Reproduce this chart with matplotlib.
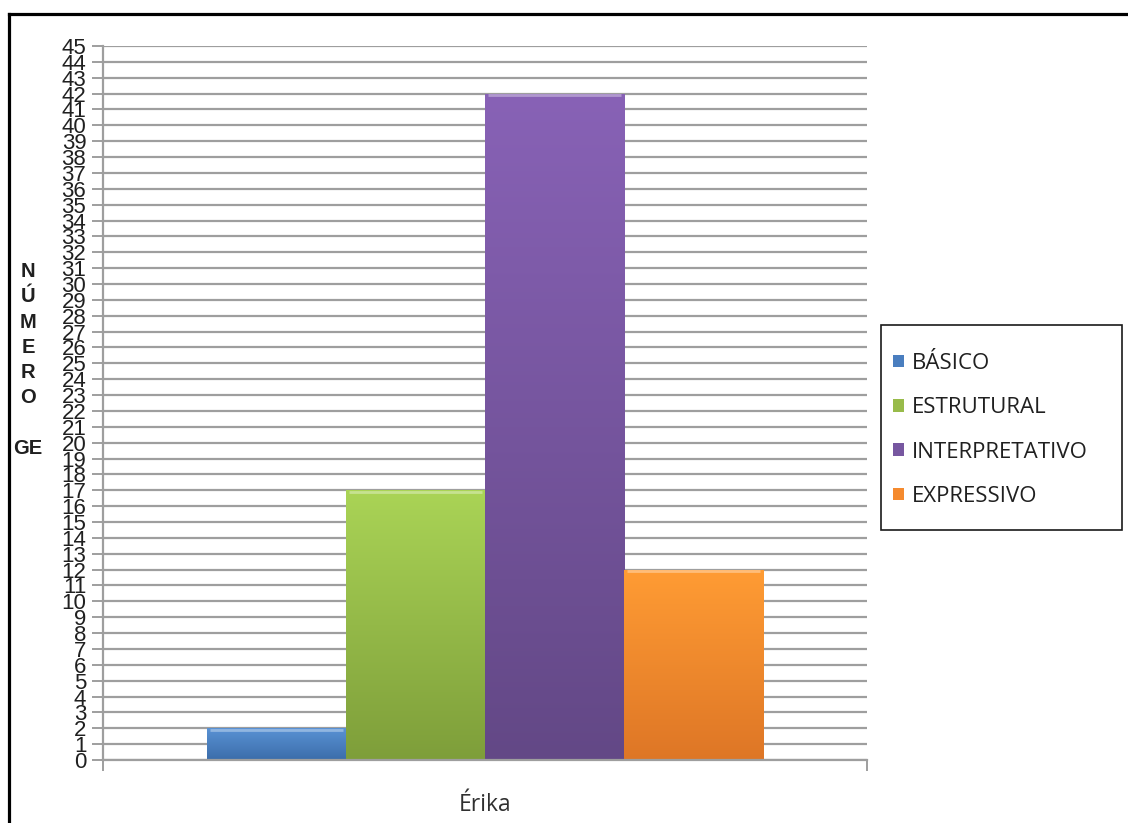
import numpy as np
import matplotlib.pyplot as plt
from matplotlib.colors import LinearSegmentedColormap
from matplotlib.patches import Patch, Rectangle
from matplotlib.lines import Line2D

categorias = ['BÁSICO', 'ESTRUTURAL', 'INTERPRETATIVO', 'EXPRESSIVO']
valores = [2, 17, 42, 12]
aluno = 'Érika'
yticks = list(range(0, 46))

# cor do topo e da base de cada barra (gradiente)
cores_topo = ['#5A92D4', '#AAD456', '#8862B6', '#FF9C34']
cores_base = ['#3B6DAA', '#7E9E3A', '#634886', '#DE7626']
cores_legenda = ['#4A7EBF', '#98BB4A', '#7757A0', '#F58A2E']

fig = plt.figure(figsize=(11.28, 8.23), dpi=100)
ax = fig.add_axes([103 / 1128, 1 - 760 / 823, 764 / 1128, 714 / 823])

w = 0.182
for i, v in enumerate(valores):
    b = ax.bar((i - 1.5) * w, v, width=w, color=cores_legenda[i], edgecolor='none', zorder=3)[0]
    cmap = LinearSegmentedColormap.from_list('g%d' % i, [cores_base[i], cores_topo[i]])
    grad = np.linspace(0, 1, 256).reshape(-1, 1)
    x0 = b.get_x()
    im = ax.imshow(grad, cmap=cmap, origin='lower', aspect='auto', zorder=4,
                   extent=[x0, x0 + b.get_width(), 0, b.get_height()])
    im.set_clip_path(b)
    # realce claro no topo da barra
    ax.plot([x0 + 0.004, x0 + b.get_width() - 0.004], [v - 0.1, v - 0.1],
            color='white', alpha=0.35, lw=2, zorder=5, solid_capstyle='butt')

ax.set_xlim(-0.5, 0.5)
ax.set_ylim(0, 45)
ax.set_yticks(yticks)
ax.set_yticklabels([str(t) for t in yticks], fontsize=16,
                   family=['Liberation Sans Narrow', 'Liberation Sans'], color='#202020')
ax.yaxis.grid(True, color='#9E9E9E', lw=1.6, zorder=0)
ax.set_axisbelow(True)
ax.tick_params(axis='y', length=8, width=1.4, color='#9E9E9E', pad=4)
ax.set_xticks([-0.5, 0.5])
ax.set_xticklabels(['', ''])
ax.tick_params(axis='x', length=8, width=1.4, color='#9E9E9E', direction='out')
for s in ['top', 'right']:
    ax.spines[s].set_visible(False)
ax.spines['left'].set_color('#9E9E9E')
ax.spines['left'].set_linewidth(1.6)
ax.spines['bottom'].set_color('#9E9E9E')
ax.spines['bottom'].set_linewidth(1.6)
ax.spines['bottom'].set_zorder(6)

ax.text(0, -2.85, aluno, ha='center', va='center', fontsize=16.5,
        family='Open Sans', color='#303030')

# rótulo do eixo y, letras empilhadas
fig.text(28 / 1128, 1 - 360 / 823, 'N\nÚ\nM\nE\nR\nO\n\nGE', ha='center', va='center',
         fontsize=14.5, fontweight='bold', family=['Liberation Sans Narrow', 'Liberation Sans'],
         linespacing=1.42, multialignment='center', color='#202020')

# legenda
handles = [Patch(facecolor=c, edgecolor='none') for c in cores_legenda]
fig.patches.append(Rectangle((881 / 1128, 1 - 530 / 823), 241 / 1128, 205 / 823,
                             transform=fig.transFigure, facecolor='white',
                             edgecolor='#1A1A1A', lw=1.2, zorder=1))
fig.legend(handles, categorias, loc='center left',
           bbox_to_anchor=(875 / 1128, 1 - 430 / 823), frameon=False,
           prop={'family': 'Open Sans', 'size': 16}, labelcolor='#202020',
           handlelength=0.5, handleheight=0.5, handletextpad=0.35,
           labelspacing=1.05, borderpad=0.3)

# moldura
fig.add_artist(Line2D([9 / 1128, 1], [1 - 14 / 823, 1 - 14 / 823], color='black', lw=2.3,
                      transform=fig.transFigure))
fig.add_artist(Line2D([9 / 1128, 9 / 1128], [0, 1 - 14 / 823], color='black', lw=2.3,
                      transform=fig.transFigure))

fig.savefig('out.png', dpi=100)
